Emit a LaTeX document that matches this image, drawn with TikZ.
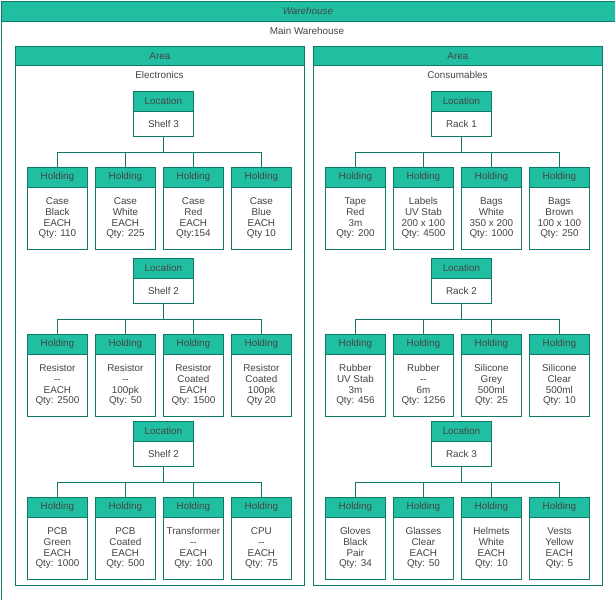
\documentclass[tikz,border=0pt]{standalone}
\usepackage{fontspec}
\setmainfont{Liberation Sans}
\definecolor{tealf}{HTML}{21BFA2}
\definecolor{teald}{HTML}{0F7A68}
\definecolor{txt}{HTML}{444444}
\newcommand{\hold}[5]{% name, x, ytop, label, body
  \node[hhead,minimum width={60*0.75pt},minimum height={20*0.75pt},anchor=north west] (#1h) at (#2,#3) {#4};
  \node[hbody,minimum width={60*0.75pt},minimum height={62*0.75pt},anchor=north west] (#1) at (#2,#3+20) {#5};}
\newcommand{\locn}[4]{% name x ytop body
  \node[hhead,minimum width={60*0.75pt},minimum height={20*0.75pt},anchor=north west] (#1h) at (#2,#3) {Location};
  \node[hbody,minimum width={60*0.75pt},minimum height={25*0.75pt},anchor=north west] (#1) at (#2,#3+20) {#4};}
\begin{document}
\begin{tikzpicture}[x=0.75pt,y=-0.75pt,
  every node/.style={font=\fontsize{7.4}{8}\selectfont,text=txt,inner sep=0},
  hhead/.style={draw=teald,fill=tealf,line width=0.6pt},
  hbody/.style={draw=teald,fill=white,align=center,line width=0.6pt},
  conn/.style={draw=teald,line width=0.6pt}]
\useasboundingbox (0,0) rectangle (615,600);
\node[hhead,minimum width={614*0.75pt},minimum height={20*0.75pt},anchor=north west] (wh) at (0.5,0.5) {\itshape Warehouse};
\node[draw=teald,line width=0.6pt,minimum width={614*0.75pt},minimum height={579*0.75pt},anchor=north west] (whb) at (0.5,20.5) {};
\node (mw) at (307,31) {Main Warehouse};
\foreach \ax/\an/\at in {15/L/Electronics,313/R/Consumables}{
  \node[hhead,minimum width={289*0.75pt},minimum height={19*0.75pt},anchor=north west] (area\an) at (\ax,46) {Area};
  \node[draw=teald,line width=0.6pt,minimum width={289*0.75pt},minimum height={520*0.75pt},anchor=north west] (areab\an) at (\ax,65) {};
  \node (at\an) at (\ax+144.5,75) {\at};
}
% left column
\locn{la}{133}{91}{Shelf 3}
\hold{la1}{27}{167}{Holding}{Case\\Black\\EACH\\Qty: 110}
\hold{la2}{95}{167}{Holding}{Case\\White\\EACH\\Qty: 225}
\hold{la3}{163}{167}{Holding}{Case\\Red\\EACH\\Qty:154}
\hold{la4}{231}{167}{Holding}{Case\\Blue\\EACH\\Qty 10}
\locn{lb}{133}{258}{Shelf 2}
\hold{lb1}{27}{334}{Holding}{Resistor\\{-}{-}\\EACH\\Qty: 2500}
\hold{lb2}{95}{334}{Holding}{Resistor\\{-}{-}\\100pk\\Qty: 50}
\hold{lb3}{163}{334}{Holding}{Resistor\\Coated\\EACH\\Qty: 1500}
\hold{lb4}{231}{334}{Holding}{Resistor\\Coated\\100pk\\Qty 20}
\locn{lc}{133}{421}{Shelf 2}
\hold{lc1}{27}{497}{Holding}{PCB\\Green\\EACH\\Qty: 1000}
\hold{lc2}{95}{497}{Holding}{PCB\\Coated\\EACH\\Qty: 500}
\hold{lc3}{163}{497}{Holding}{Transformer\\{-}{-}\\EACH\\Qty: 100}
\hold{lc4}{231}{497}{Holding}{CPU\\{-}{-}\\EACH\\Qty: 75}
% right column
\locn{ra}{431}{91}{Rack 1}
\hold{ra1}{325}{167}{Holding}{Tape\\Red\\3m\\Qty: 200}
\hold{ra2}{393}{167}{Holding}{Labels\\UV Stab\\200 x 100\\Qty: 4500}
\hold{ra3}{461}{167}{Holding}{Bags\\White\\350 x 200\\Qty: 1000}
\hold{ra4}{529}{167}{Holding}{Bags\\Brown\\100 x 100\\Qty: 250}
\locn{rb}{431}{258}{Rack 2}
\hold{rb1}{325}{334}{Holding}{Rubber\\UV Stab\\3m\\Qty: 456}
\hold{rb2}{393}{334}{Holding}{Rubber\\{-}{-}\\6m\\Qty: 1256}
\hold{rb3}{461}{334}{Holding}{Silicone\\Grey\\500ml\\Qty: 25}
\hold{rb4}{529}{334}{Holding}{Silicone\\Clear\\500ml\\Qty: 10}
\locn{rc}{431}{421}{Rack 3}
\hold{rc1}{325}{497}{Holding}{Gloves\\Black\\Pair\\Qty: 34}
\hold{rc2}{393}{497}{Holding}{Glasses\\Clear\\EACH\\Qty: 50}
\hold{rc3}{461}{497}{Holding}{Helmets\\White\\EACH\\Qty: 10}
\hold{rc4}{529}{497}{Holding}{Vests\\Yellow\\EACH\\Qty: 5}
\foreach \p in {la,lb,lc,ra,rb,rc}{
  \foreach \i in {1,2,3,4}{
    \draw[conn] (\p.south) -- ++(0,16) -| (\p\i h.north);
  }
}
\end{tikzpicture}
\end{document}
